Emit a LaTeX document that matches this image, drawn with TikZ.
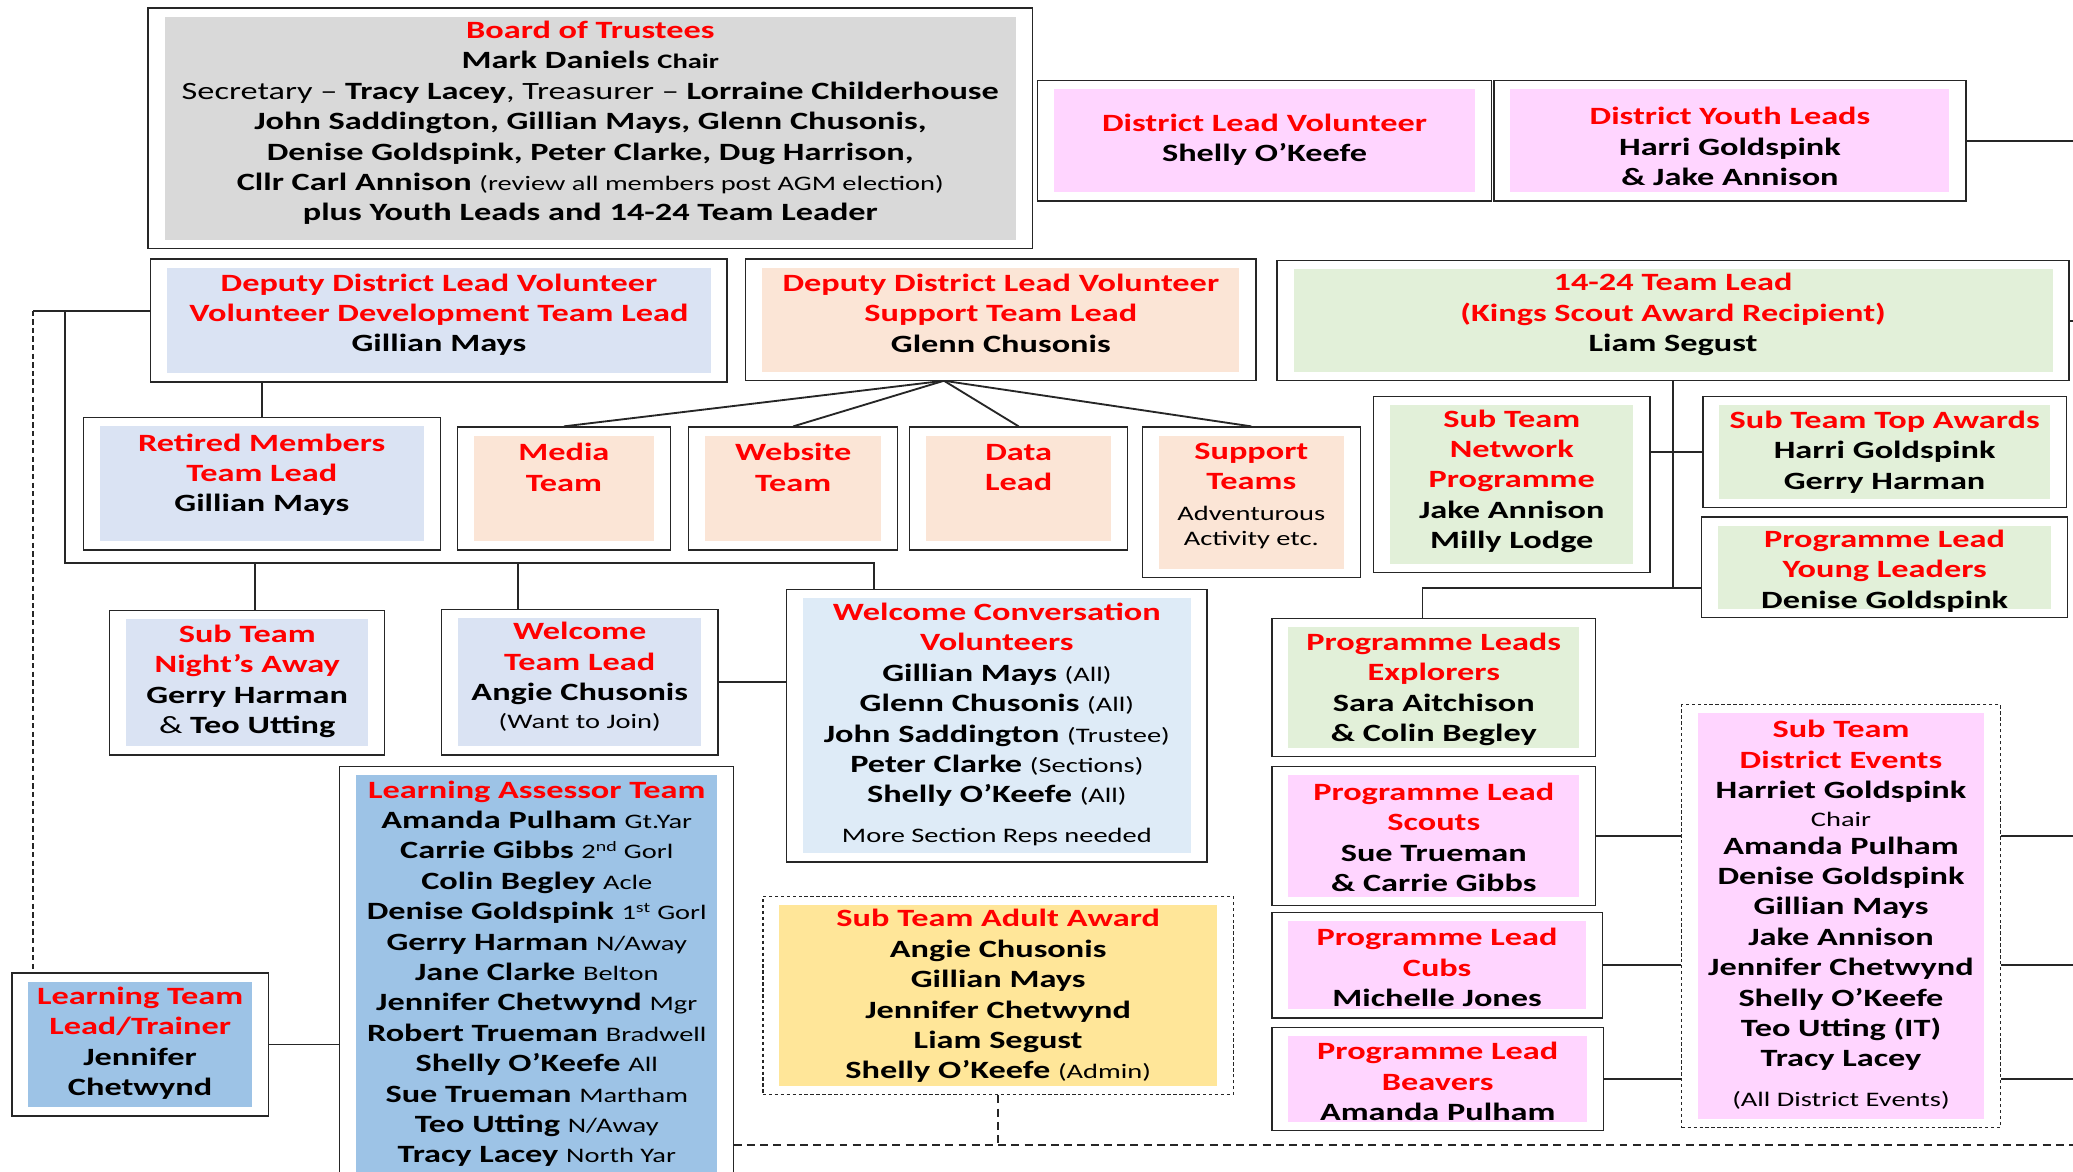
\documentclass[tikz,border=0pt]{standalone}
\usepackage{fontspec}
\setmainfont{Carlito}[FakeStretch=1.38]
\usetikzlibrary{backgrounds}
\definecolor{hdred}{HTML}{FF0000}
\definecolor{gryfill}{HTML}{D9D9D9}
\definecolor{pnkfill}{HTML}{FFD5FF}
\definecolor{bluefill}{HTML}{DAE3F3}
\definecolor{skyfill}{HTML}{DEEBF7}
\definecolor{peachfill}{HTML}{FBE5D6}
\definecolor{grnfill}{HTML}{E2F0D9}
\definecolor{lrnfill}{HTML}{9DC3E6}
\definecolor{goldfill}{HTML}{FFE699}
\definecolor{edge}{HTML}{262626}
\newcommand{\mainsz}{\fontsize{18.8}{23}\selectfont}
\newcommand{\smallsz}{\fontsize{15.6}{19}\selectfont}
\newcommand{\redhd}[1]{\textcolor{hdred}{#1}}
\newcommand{\smnote}[1]{{\smallsz\mdseries #1}}
\tikzset{
  % white frame with a coloured panel inset
  box/.style  ={draw=edge, line width=1pt, fill=white,
                path picture={\fill[#1]
                  ([xshift=12.5pt,yshift=6.5pt]path picture bounding box.south west) rectangle
                  ([xshift=-12.5pt,yshift=-6.5pt]path picture bounding box.north east);}},
  dbox/.style ={box=#1, dash pattern=on 2.5pt off 2pt},
  wh/.style 2 args={minimum width=#1pt, minimum height=#2pt, inner sep=0pt},
  txt/.style  ={align=center, inner sep=0pt, font=\mainsz\bfseries},
  link/.style ={draw=edge, line width=1.4pt},
  dlink/.style={draw=edge, line width=1.2pt, dash pattern=on 6pt off 4pt},
}
\begin{document}
\begin{tikzpicture}[x=1pt, y=-1pt]
  \useasboundingbox (0,0) rectangle (1568,886);
  % top row
  \node[box=gryfill, wh={669}{182}] (board) at (446.5,97) {};
  \node[txt] (boardT) at (446.5,93) {\redhd{Board of Trustees}\\
    Mark Daniels {\smallsz Chair}\\
    {\mdseries Secretary –} Tracy Lacey{\mdseries, Treasurer –} Lorraine Childerhouse\\
    John Saddington, Gillian Mays, Glenn Chusonis,\\
    Denise Goldspink, Peter Clarke, Dug Harrison,\\
    Cllr Carl Annison \smnote{(review all members post AGM election)}\\
    plus Youth Leads and 14-24 Team Leader};
  \node[box=pnkfill, wh={343}{91}] (dlv) at (956.5,106.5) {};
  \node[txt] (dlvT) at (956.5,105.5) {\redhd{District Lead Volunteer}\\Shelly O’Keefe};
  \node[box=pnkfill, wh={357}{91}] (dyl) at (1308.5,106.5) {};
  \node[txt] (dylT) at (1308.5,111) {\redhd{District Youth Leads}\\Harri Goldspink\\\& Jake Annison};
  % deputies and 14-24
  \node[box=bluefill, wh={436}{93}] (dv) at (332,242.5) {};
  \node[txt] (dvT) at (332,238) {\redhd{Deputy District Lead Volunteer}\\
    \redhd{Volunteer Development Team Lead}\\Gillian Mays};
  \node[box=peachfill, wh={386}{92}] (ds) at (757,242) {};
  \node[txt] (dsT) at (757,237) {\redhd{Deputy District Lead Volunteer}\\
    \redhd{Support Team Lead}\\Glenn Chusonis};
  \node[box=grnfill, wh={599}{91}] (tl) at (1265.5,242.5) {};
  \node[txt] (tlT) at (1265.5,238) {\redhd{14-24 Team Lead}\\
    \redhd{(Kings Scout Award Recipient)}\\Liam Segust};
  % third row
  \node[box=bluefill, wh={270}{100}] (rm) at (198,366) {};
  \node[txt] (rmT) at (198,359) {\redhd{Retired Members}\\\redhd{Team Lead}\\Gillian Mays};
  \node[box=peachfill, wh={161}{93}] (mt) at (426.5,369.5) {};
  \node[txt] (mtT) at (426.5,353.5) {\redhd{Media}\\\redhd{Team}};
  \node[box=peachfill, wh={158}{93}] (wt) at (600,369.5) {};
  \node[txt] (wtT) at (600,353.5) {\redhd{Website}\\\redhd{Team}};
  \node[box=peachfill, wh={165}{93}] (dl) at (770.5,369.5) {};
  \node[txt] (dlT) at (770.5,353.5) {\redhd{Data}\\\redhd{Lead}};
  \node[box=peachfill, wh={165}{114}] (st) at (946.5,380) {};
  \node[txt] (stT) at (946.5,375) {\redhd{Support}\\\redhd{Teams}\\
    \smnote{Adventurous}\\[-4pt]\smnote{Activity etc.}};
  \node[box=grnfill, wh={209}{133}] (sn) at (1143.5,366.5) {};
  \node[txt] (snT) at (1143.5,364) {\redhd{Sub Team}\\\redhd{Network}\\\redhd{Programme}\\
    Jake Annison\\Milly Lodge};
  \node[box=grnfill, wh={275}{84}] (ta) at (1425.5,342) {};
  \node[txt] (taT) at (1425.5,342) {\redhd{Sub Team Top Awards}\\Harri Goldspink\\Gerry Harman};
  \node[box=grnfill, wh={277}{76}] (ply) at (1425.5,429) {};
  \node[txt] (plyT) at (1425.5,432) {\redhd{Programme Lead}\\\redhd{Young Leaders}\\Denise Goldspink};
  % welcome and learning
  \node[box=bluefill, wh={208}{109}] (na) at (187,516.5) {};
  \node[txt] (naT) at (187,515.5) {\redhd{Sub Team}\\\redhd{Night’s Away}\\
    Gerry Harman\\{\mdseries\&} Teo Utting};
  \node[box=bluefill, wh={209}{110}] (wtl) at (438.5,516) {};
  \node[txt] (wtlT) at (438.5,512) {\redhd{Welcome}\\\redhd{Team Lead}\\
    Angie Chusonis\\[-2pt]\smnote{(Want to Join)}};
  \node[box=skyfill, wh={318}{206}] (wc) at (754,549) {};
  \node[txt] (wcT) at (754,548) {\redhd{Welcome Conversation}\\\redhd{Volunteers}\\
    Gillian Mays \smnote{(All)}\\
    Glenn Chusonis \smnote{(All)}\\
    John Saddington \smnote{(Trustee)}\\
    Peter Clarke \smnote{(Sections)}\\
    Shelly O’Keefe \smnote{(All)}\\[7pt]
    \smnote{More Section Reps needed}};
  \node[box=lrnfill, wh={298}{320}] (la) at (406,740) {};
  \node[txt] (laT) at (406,736.5) {\redhd{Learning Assessor Team}\\
    Amanda Pulham \smnote{Gt.Yar}\\
    Carrie Gibbs \smnote{2\textsuperscript{nd} Gorl}\\
    Colin Begley \smnote{Acle}\\
    Denise Goldspink \smnote{1\textsuperscript{st} Gorl}\\
    Gerry Harman \smnote{N/Away}\\
    Jane Clarke \smnote{Belton}\\
    Jennifer Chetwynd \smnote{Mgr}\\
    Robert Trueman \smnote{Bradwell}\\
    Shelly O’Keefe \smnote{All}\\
    Sue Trueman \smnote{Martham}\\
    Teo Utting \smnote{N/Away}\\
    Tracy Lacey \smnote{North Yar}};
  \node[box=lrnfill, wh={194}{108}] (lt) at (106,790) {};
  \node[txt] (ltT) at (106,789) {\redhd{Learning Team}\\\redhd{Lead/Trainer}\\Jennifer\\Chetwynd};
  \node[dbox=goldfill, wh={356}{150}] (aa) at (755,753) {};
  \node[txt] (aaT) at (755,753.5) {\redhd{Sub Team Adult Award}\\Angie Chusonis\\Gillian Mays\\
    Jennifer Chetwynd\\Liam Segust\\Shelly O’Keefe \smnote{(Admin)}};
  % programme leads and events
  \node[box=grnfill, wh={245}{104}] (ex) at (1084.5,520) {};
  \node[txt] (exT) at (1084.5,521.5) {\redhd{Programme Leads}\\\redhd{Explorers}\\
    Sara Aitchison\\\& Colin Begley};
  \node[box=pnkfill, wh={245}{105}] (sc) at (1084.5,632.5) {};
  \node[txt] (scT) at (1084.5,633.5) {\redhd{Programme Lead}\\\redhd{Scouts}\\
    Sue Trueman\\\& Carrie Gibbs};
  \node[box=pnkfill, wh={250}{80}] (cu) at (1087,730) {};
  \node[txt] (cuT) at (1087,732) {\redhd{Programme Lead}\\\redhd{Cubs}\\Michelle Jones};
  \node[box=pnkfill, wh={251}{78}] (bv) at (1087.5,816) {};
  \node[txt] (bvT) at (1087.5,818) {\redhd{Programme Lead}\\\redhd{Beavers}\\Amanda Pulham};
  \node[dbox=pnkfill, wh={241}{320}] (de) at (1392.5,693) {};
  \node[txt] (deT) at (1392.5,692) {\redhd{Sub Team}\\\redhd{District Events}\\
    Harriet Goldspink\\[-2pt]\smnote{Chair}\\[-2pt]Amanda Pulham\\Denise Goldspink\\Gillian Mays\\
    Jake Annison\\Jennifer Chetwynd\\Shelly O’Keefe\\Teo Utting (IT)\\Tracy Lacey\\[7pt]
    \smnote{(All District Events)}};
  % connectors
  \begin{scope}[on background layer]
    \fill[white] (0,0) rectangle (1568,886);
    \coordinate (edgeR) at (1568,0);
    \coordinate (dsA) at (714,288);
    \coordinate (tlJ) at (1265.5,445);
    \coordinate (exJ) at (1076,445);
    \coordinate (busA) at (49,235);
    \coordinate (dashA) at (25,235);
    \coordinate (busB) at (661,426);
    \coordinate (dropNA) at (193,426);
    \coordinate (dropWT) at (392,426);
    \coordinate (botA) at (555,866);
    \draw[link] (dyl.east) -- (dyl.east -| edgeR);
    \draw[link] (tl.east) -- (tl.east -| edgeR);
    \draw[link] (dv.south -| rm.north) -- (rm.north);
    \foreach \k in {mt,wt,dl,st}
      \draw[link] (dsA) -- (\k.north);
    \draw[link] (tl.south) -- (tlJ);
    \draw[link] (sn.east |- ta.west) -- (ta.west);
    \draw[link] (exJ |- ex.north) -- (exJ) -- (tlJ -| ply.west);
    \draw[link] (dv.west |- busA) -- (dashA);
    \draw[dlink, line width=1.6pt, dash pattern=on 4pt off 2.5pt] (dashA) -- (dashA |- lt.north);
    \draw[link, line width=1.7pt] (busA) |- (busB) -- (busB |- wc.north);
    \draw[link] (dropNA) -- (dropNA |- na.north);
    \draw[link] (dropWT) -- (dropWT |- wtl.north);
    \draw[link] (wtl.east) -- (wtl.east -| wc.west);
    \draw[link] (lt.east) -- (lt.east -| la.west);
    \foreach \k in {sc,cu,bv} {
      \draw[link] (\k.east) -- (\k.east -| de.west);
      \draw[link] (\k.east -| de.east) -- (\k.east -| edgeR);
    }
    \draw[dlink] (botA) -- (botA -| edgeR);
    \draw[dlink] (aa.south) -- (aa.south |- botA);
  \end{scope}
\end{tikzpicture}
\end{document}
